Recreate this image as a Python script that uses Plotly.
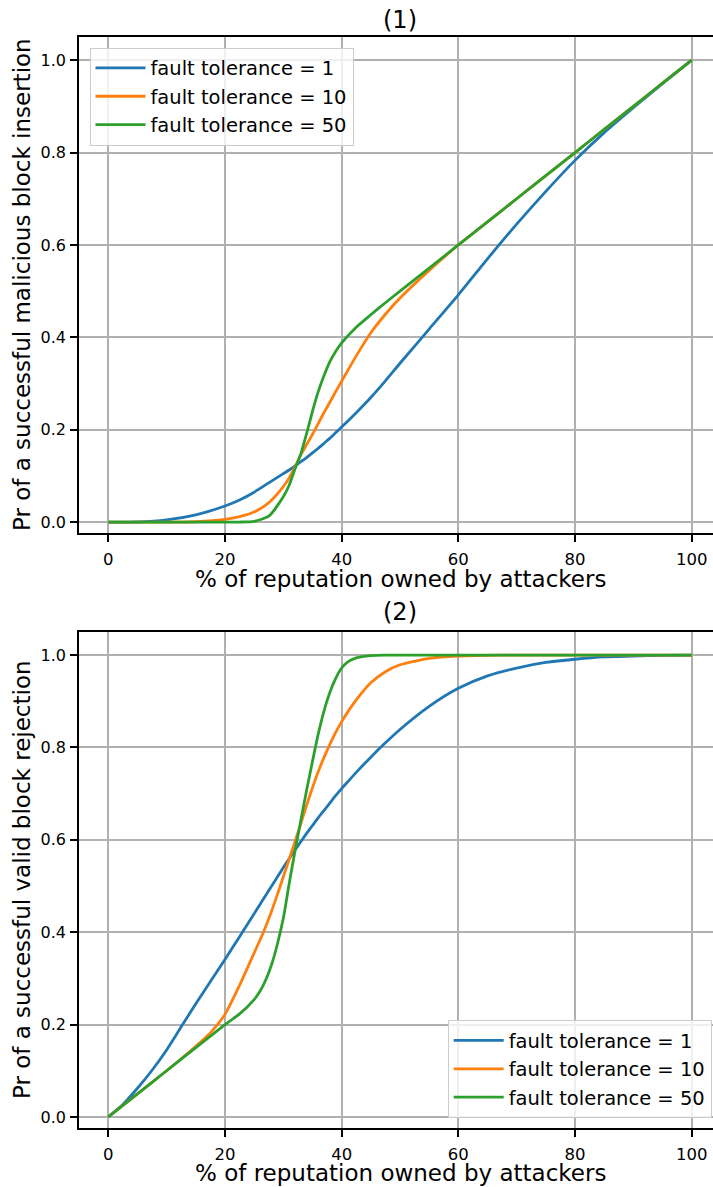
import plotly.graph_objects as go

# ---------------- data ----------------
ft_labels = ["fault tolerance = 1", "fault tolerance = 10", "fault tolerance = 50"]
colors = ["#1f77b4", "#ff7f0e", "#2ca02c"]

# Panel (1): malicious block insertion
x_ins = [0, 5, 10, 15, 20, 22.5, 25, 27.5, 30, 31, 32, 33, 34, 35, 36, 37, 38, 39, 40,
         42.5, 45, 47.5, 50, 55, 60, 65, 70, 75, 80, 85, 90, 95, 100]
ins_ft1 = [0, 0.0005, 0.005, 0.016, 0.035, 0.048, 0.065, 0.085, 0.105, 0.113, 0.122, 0.131,
           0.14, 0.15, 0.16, 0.171, 0.182, 0.194, 0.206, 0.237, 0.27, 0.306, 0.344, 0.418,
           0.492, 0.57, 0.645, 0.716, 0.783, 0.843, 0.897, 0.949, 1.0]
ins_ft10 = [0, 0, 0.0002, 0.001, 0.006, 0.012, 0.022, 0.042, 0.077, 0.096, 0.12, 0.146,
            0.168, 0.19, 0.214, 0.238, 0.26, 0.283, 0.305, 0.36, 0.41, 0.45, 0.485, 0.545,
            0.6, 0.65, 0.7, 0.75, 0.8, 0.85, 0.9, 0.95, 1.0]
ins_ft50 = [0, 0, 0, 0, 0, 0.0003, 0.002, 0.013, 0.055, 0.08, 0.115, 0.148, 0.192, 0.24,
            0.283, 0.318, 0.348, 0.37, 0.388, 0.422, 0.449, 0.475, 0.5, 0.55, 0.6, 0.65,
            0.7, 0.75, 0.8, 0.85, 0.9, 0.95, 1.0]

# Panel (2): valid block rejection
x_rej = [0, 2.5, 5, 7.5, 10, 12.5, 15, 17.5, 20, 22.5, 25, 26, 27, 28, 29, 30, 31, 32, 33,
         34, 35, 36, 37, 38, 39, 40, 41, 42.5, 45, 47.5, 50, 55, 60, 65, 70, 75, 80, 85, 90,
         95, 100]
rej_ft1 = [0, 0.027, 0.062, 0.101, 0.145, 0.195, 0.245, 0.293, 0.341, 0.39, 0.44, 0.46, 0.48,
           0.5, 0.52, 0.54, 0.559, 0.578, 0.596, 0.614, 0.631, 0.648, 0.664, 0.68, 0.696,
           0.711, 0.725, 0.746, 0.779, 0.81, 0.839, 0.889, 0.928, 0.955, 0.972, 0.984, 0.991,
           0.996, 0.998, 0.9995, 1.0]
rej_ft10 = [0, 0.025, 0.05, 0.075, 0.1, 0.126, 0.153, 0.182, 0.222, 0.285, 0.355, 0.383,
            0.413, 0.446, 0.482, 0.52, 0.558, 0.596, 0.635, 0.675, 0.713, 0.748, 0.779, 0.807,
            0.833, 0.856, 0.876, 0.903, 0.94, 0.964, 0.979, 0.993, 0.998, 0.9995, 1, 1, 1, 1,
            1, 1, 1]
rej_ft50 = [0, 0.025, 0.05, 0.075, 0.1, 0.125, 0.15, 0.175, 0.2, 0.223, 0.254, 0.272, 0.297,
            0.33, 0.375, 0.43, 0.505, 0.575, 0.642, 0.708, 0.77, 0.83, 0.88, 0.92, 0.95,
            0.972, 0.985, 0.994, 0.999, 1, 1, 1, 1, 1, 1, 1, 1, 1, 1, 1, 1]

x_ticks = [0, 20, 40, 60, 80, 100]
y_ticks = [0.0, 0.2, 0.4, 0.6, 0.8, 1.0]
titles = ["(1)", "(2)"]
x_title = "% of reputation owned by attackers"
y_titles = ["Pr of a successful malicious block insertion",
            "Pr of a successful valid block rejection"]

# ---------------- figure ----------------
FONT = "DejaVu Sans, Liberation Sans, sans-serif"
W, H = 713, 1187
ML, MR, MT, MB = 79, 0, 37, 59
plot_h = H - MT - MB
plot_w = W - ML - MR


def py(px):  # pixel row -> paper y
    return (H - MB - px) / plot_h


def pxx(px):  # pixel column -> paper x
    return (px - ML) / plot_w


fig = go.Figure()

for ys, name, c in zip([ins_ft1, ins_ft10, ins_ft50], ft_labels, colors):
    fig.add_trace(go.Scatter(x=x_ins, y=ys, name=name, mode="lines",
                             line=dict(color=c, width=2.8, shape="spline", smoothing=0.6),
                             xaxis="x", yaxis="y", legend="legend"))
for ys, name, c in zip([rej_ft1, rej_ft10, rej_ft50], ft_labels, colors):
    fig.add_trace(go.Scatter(x=x_rej, y=ys, name=name, mode="lines",
                             line=dict(color=c, width=2.8, shape="spline", smoothing=0.6),
                             xaxis="x2", yaxis="y2", legend="legend2"))

axis_common = dict(
    showgrid=True, gridcolor="#b0b0b0", gridwidth=1.5,
    zeroline=False, showline=True, linecolor="black", linewidth=1.5,
    ticks="outside", ticklen=7, tickwidth=1.5, tickcolor="black",
    automargin=False,
)
x_common = dict(axis_common, tickfont=dict(family=FONT, size=16.5, color="black"),
                ticklabelstandoff=3, mirror=True)
y_common = dict(axis_common, tickfont=dict(family=FONT, size=16, color="black"),
                ticklabelstandoff=1)
xr = [-5.02, 103.65]
yr = [-0.024, 1.05]

top_dom = [py(533.3), 1.0]
bot_dom = [0.0, py(632)]

legend_common = dict(bgcolor="rgba(255,255,255,0.8)", bordercolor="#cccccc", borderwidth=1,
                     font=dict(family=FONT, size=19.5, color="black"), itemwidth=50)

fig.update_layout(
    width=W, height=H,
    margin=dict(l=ML, r=MR, t=MT, b=MB, pad=0),
    paper_bgcolor="white", plot_bgcolor="white",
    font=dict(family=FONT, color="black"),
    xaxis=dict(x_common, range=xr, tickvals=x_ticks, anchor="y", domain=[0, 1]),
    yaxis=dict(y_common, range=yr, tickvals=y_ticks, tickformat=".1f", anchor="x", domain=top_dom),
    xaxis2=dict(x_common, range=xr, tickvals=x_ticks, anchor="y2", domain=[0, 1]),
    yaxis2=dict(y_common, range=yr, tickvals=y_ticks, tickformat=".1f", anchor="x2", domain=bot_dom),
    legend=dict(legend_common, x=pxx(89.5), y=py(47.7), xanchor="left", yanchor="top"),
    legend2=dict(legend_common, x=pxx(711.7), y=py(1118.3), xanchor="right", yanchor="bottom"),
    showlegend=True,
)

ann = []
for t, yc in zip(titles, (20, 612.5)):
    ann.append(dict(text=t, x=pxx(400), y=py(yc), xref="paper", yref="paper",
                    xanchor="center", yanchor="middle", showarrow=False,
                    font=dict(family=FONT, size=24, color="black")))
for yc in (579, 1173):
    ann.append(dict(text=x_title, x=pxx(400), y=py(yc), xref="paper", yref="paper",
                    xanchor="center", yanchor="middle", showarrow=False, borderpad=0,
                    font=dict(family=FONT, size=23, color="black")))
for yc, t in zip((285, 880), y_titles):
    ann.append(dict(text=t, x=pxx(22), y=py(yc), xref="paper", yref="paper",
                    xanchor="center", yanchor="middle", showarrow=False, textangle=-90,
                    font=dict(family=FONT, size=23, color="black")))
fig.update_layout(annotations=ann)

fig.write_html("out.html", config={"displayModeBar": False},
               post_script="document.body.style.margin='0';document.body.style.overflow='hidden';")
